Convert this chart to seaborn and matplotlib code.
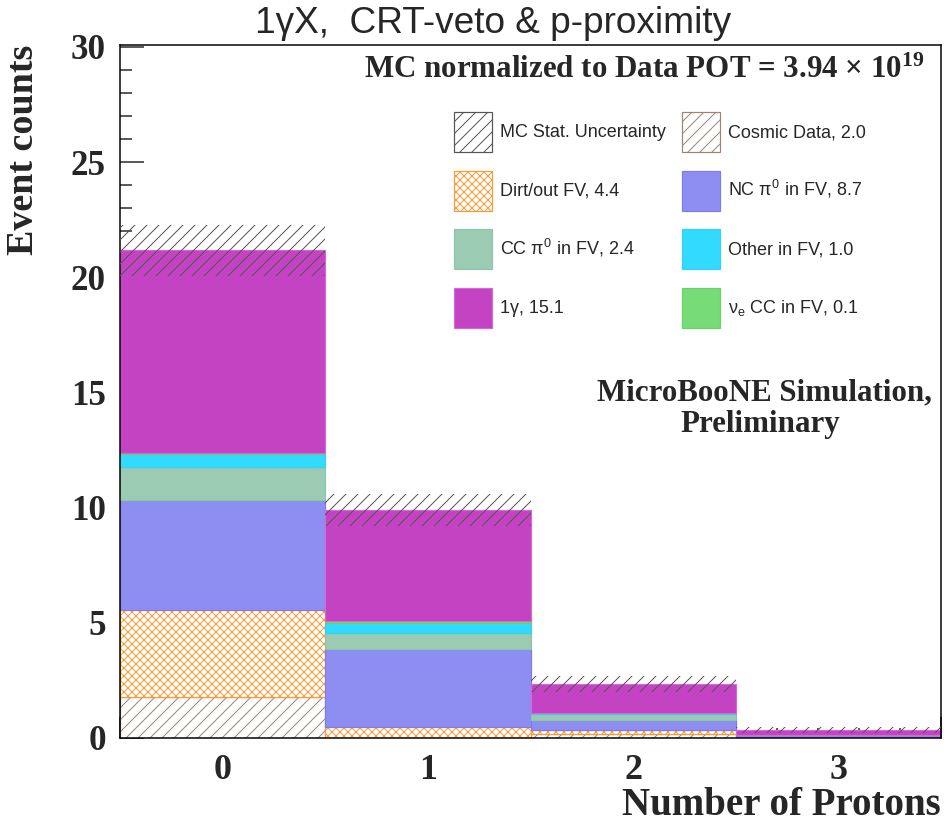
import matplotlib
matplotlib.use("Agg")
import matplotlib.pyplot as plt
import matplotlib.colors as mcolors
from matplotlib.patches import Patch
from matplotlib.font_manager import FontProperties
from matplotlib.ticker import FixedLocator, MultipleLocator, NullFormatter
import numpy as np
import pandas as pd
import seaborn as sns

# ---- data: expected events per reconstructed proton multiplicity ----
n_protons = [0, 1, 2, 3]
cosmic_data = [1.79, 0.00, 0.17, 0.02]
dirt_out_fv = [3.77, 0.46, 0.18, 0.01]
nc_pi0 = [4.77, 3.40, 0.43, 0.08]
cc_pi0 = [1.42, 0.71, 0.27, 0.02]
other_fv = [0.58, 0.43, 0.02, 0.00]
nue_cc = [0.02, 0.08, 0.00, 0.00]
one_gamma = [8.82, 4.82, 1.28, 0.22]
mc_stat_err = [1.10, 0.69, 0.36, 0.12]

# stacking order, bottom to top
stack_keys = ["cosmic", "dirt", "nc", "cc", "other", "nue", "gamma"]
values = {
    "cosmic": cosmic_data,
    "dirt": dirt_out_fv,
    "nc": nc_pi0,
    "cc": cc_pi0,
    "other": other_fv,
    "nue": nue_cc,
    "gamma": one_gamma,
}
names = {
    "cosmic": "Cosmic Data",
    "dirt": "Dirt/out FV",
    "nc": r"NC π$^{0}$ in FV",
    "cc": r"CC π$^{0}$ in FV",
    "other": "Other in FV",
    "nue": r"ν$_{e}$ CC in FV",
    "gamma": "1γ",
}
styles = {
    "cosmic": dict(key="#9c8476", face="white", edge="#9c8476", hatch="//"),
    "dirt": dict(key="#ff9933", face="white", edge="#ff9933", hatch="xxx"),
    "nc": dict(key="#8e8ef2", face="#8e8ef2", edge="#7b7bee", hatch=None),
    "cc": dict(key="#9ccbb4", face="#9ccbb4", edge="#8cc6a9", hatch=None),
    "other": dict(key="#33daff", face="#33daff", edge="#33d2f5", hatch=None),
    "nue": dict(key="#77db77", face="#77db77", edge="#66d466", hatch=None),
    "gamma": dict(key="#c443c3", face="#c443c3", edge="#d468d4", hatch=None),
}
err_color = "#555555"

df = pd.DataFrame({
    "n_protons": np.tile(n_protons, len(stack_keys)),
    "component": np.repeat(stack_keys, len(n_protons)),
    "events": np.concatenate([values[k] for k in stack_keys]),
})
total = df.groupby("n_protons")["events"].sum().reindex(n_protons).to_numpy()

# ---- figure ----
W, H, DPI = 944, 823, 72
sns.set_style("ticks")
plt.rcParams.update({
    "font.family": ["Liberation Serif", "DejaVu Serif"],
    "font.weight": "bold",
    "mathtext.default": "regular",
    "hatch.linewidth": 1.0,
    "axes.linewidth": 1.5,
    "axes.edgecolor": "black",
})

fig = plt.figure(figsize=(W / DPI, H / DPI), dpi=DPI)
ax = fig.add_axes([120 / W, 1 - 738 / H, (941 - 120) / W, (738 - 45) / H])

# seaborn stacks the first hue level on top, so pass the order reversed
sns.histplot(
    data=df, x="n_protons", weights="events", hue="component",
    hue_order=stack_keys[::-1],
    palette={k: styles[k]["key"] for k in stack_keys},
    multiple="stack", discrete=True, shrink=1, alpha=1,
    linewidth=1, legend=False, ax=ax,
)

key_of_color = {styles[k]["key"]: k for k in stack_keys}
for p in ax.patches:
    k = key_of_color.get(mcolors.to_hex(p.get_facecolor()))
    if k is None:
        continue
    st = styles[k]
    p.set_facecolor(st["face"])
    p.set_edgecolor(st["edge"])
    if st["hatch"]:
        p.set_hatch(st["hatch"])
    p.set_linewidth(1.2 if p.get_height() > 0 else 0)

# MC statistical uncertainty band on top of the stack
err = np.asarray(mc_stat_err)
ax.bar(n_protons, 2 * err, bottom=total - err, width=1.0,
       facecolor="none", edgecolor=err_color, hatch="//", linewidth=0, zorder=3)

# ---- axes styling ----
ax.set_xlim(-0.5, 3.5)
ax.set_ylim(0, 30.08)
edges = np.arange(-0.5, 3.51, 1.0)
fine = [x for x in np.round(np.arange(-0.5, 3.5, 0.2), 2) if not np.isclose((x + 0.5) % 1, 0)]
ax.xaxis.set_major_locator(FixedLocator(edges))
ax.xaxis.set_minor_locator(FixedLocator(fine))
ax.xaxis.set_major_formatter(NullFormatter())
ax.yaxis.set_major_locator(MultipleLocator(5))
ax.yaxis.set_minor_locator(MultipleLocator(1))
ax.tick_params(axis="x", which="major", direction="in", length=21, width=1.5)
ax.tick_params(axis="x", which="minor", direction="in", length=10, width=1.5)
ax.tick_params(axis="y", which="major", direction="in", length=24, width=1.5,
               labelsize=35, pad=14)
ax.tick_params(axis="y", which="minor", direction="in", length=12, width=1.5)
for lab in ax.get_yticklabels():
    lab.set_fontweight("bold")

# bin labels at bin centres
sec = ax.secondary_xaxis("bottom")
sec.set_xticks(n_protons, labels=[str(n) for n in n_protons])
sec.tick_params(length=0, pad=16, labelsize=36)
sec.spines["bottom"].set_visible(False)

ax.set_xlabel("Number of Protons", fontsize=39, fontweight="bold", ha="right", va="baseline")
ax.xaxis.set_label_coords(1.0, (738 - 815) / (738 - 45))
ax.set_ylabel("Event counts", fontsize=38, fontweight="bold", ha="right", va="center")
ax.yaxis.set_label_coords(-0.117, 1.0)

for s in ax.spines.values():
    s.set_visible(True)
    s.set_linewidth(1.5)

# ---- annotations ----
fig.text(493 / W, 1 - 33 / H, "1γX,  CRT-veto & p-proximity", ha="center", va="baseline",
         family="Liberation Sans", fontweight="normal", fontsize=37)
fig.text(925 / W, 1 - 78 / H, "MC normalized to Data POT = 3.94 × 10$^{19}$",
         ha="right", va="baseline", fontsize=31, fontweight="bold")
fig.text(764 / W, 1 - 400 / H, "MicroBooNE Simulation,", ha="center", va="baseline",
         fontsize=31, fontweight="bold")
fig.text(760 / W, 1 - 432 / H, "Preliminary", ha="center", va="baseline",
         fontsize=31, fontweight="bold")

# ---- legend ----
def handle(k):
    st = styles[k]
    return Patch(facecolor=st["face"], edgecolor=st["edge"], hatch=st["hatch"], linewidth=1.2)

err_handle = Patch(facecolor="white", edgecolor=err_color, hatch="//", linewidth=1.2)
order = ["err", "dirt", "cc", "gamma", "cosmic", "nc", "other", "nue"]
handles, labels = [], []
for k in order:
    if k == "err":
        handles.append(err_handle)
        labels.append("MC Stat. Uncertainty")
    else:
        handles.append(handle(k))
        labels.append(f"{names[k]}, {sum(values[k]):.1f}")

fig.legend(handles, labels, loc="upper left", bbox_to_anchor=(454 / W, 1 - 112 / H),
           ncol=2, frameon=False, borderpad=0, borderaxespad=0,
           handlelength=2.11, handleheight=3.04, labelspacing=1.04,
           handletextpad=0.44, columnspacing=0.88,
           prop=FontProperties(family="Liberation Sans", weight="normal", size=18))

fig.savefig("out.png", dpi=DPI)
